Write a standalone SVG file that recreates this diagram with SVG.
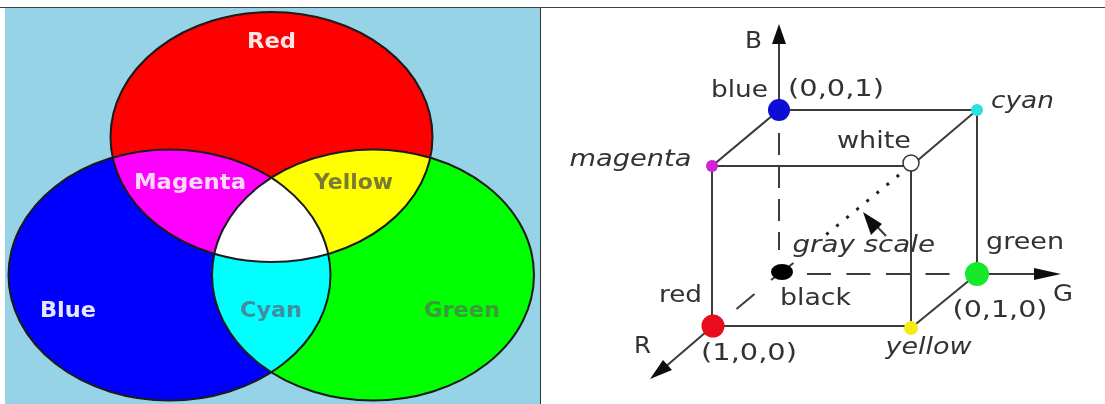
<svg xmlns="http://www.w3.org/2000/svg" width="1105" height="404" viewBox="0 0 1105 404">
<style>
.f{font-family:"DejaVu Sans","Liberation Sans",sans-serif;font-weight:700;font-size:21px}
.t{font-family:"DejaVu Sans","Liberation Sans",sans-serif;font-size:23px;fill:#333;filter:url(#s)}
.i{font-style:italic}
.e{fill:none;stroke:#1a1a1a;stroke-width:2}
.c{fill:none;stroke:#3a3a3a;stroke-width:2}
.p{fill:#111}
</style>
<defs>
<ellipse id="eR" cx="271.500" cy="137" rx="161" ry="125"/>
<ellipse id="eB" cx="169.500" cy="275" rx="161" ry="125.500"/>
<ellipse id="eG" cx="373" cy="275" rx="161" ry="125.500"/>
<clipPath id="cR"><use href="#eR"/></clipPath>
<clipPath id="cB"><use href="#eB"/></clipPath>
<clipPath id="cG"><use href="#eG"/></clipPath>
<filter id="s" x="-5%" y="-5%" width="110%" height="110%"><feGaussianBlur stdDeviation="0.5"/></filter>
<filter id="n" x="-30%" y="-30%" width="160%" height="160%"><feGaussianBlur stdDeviation="0.7"/></filter>
</defs>
<rect width="1105" height="404" fill="#fff"/>
<g id="venn" filter="url(#s)">
<rect x="5" y="8" width="535" height="396" fill="#97d3e6"/>
<use href="#eR" fill="#f00"/>
<use href="#eB" fill="#00f"/>
<use href="#eG" fill="#0f0"/>
<g clip-path="url(#cR)"><use href="#eB" fill="#f0f"/><use href="#eG" fill="#ff0"/></g>
<g clip-path="url(#cB)"><use href="#eG" fill="#0ff"/></g>
<g clip-path="url(#cR)"><g clip-path="url(#cB)"><use href="#eG" fill="#fff"/></g></g>
<use href="#eR" class="e"/><use href="#eB" class="e"/><use href="#eG" class="e"/>
<text class="f" x="247" y="48" textLength="49" lengthAdjust="spacingAndGlyphs" fill="#fbe6e6">Red</text>
<text class="f" x="134" y="189" textLength="112" lengthAdjust="spacingAndGlyphs" fill="#fbd9fb">Magenta</text>
<text class="f" x="314" y="189" textLength="79" lengthAdjust="spacingAndGlyphs" fill="#7a7a30">Yellow</text>
<text class="f" x="40" y="317" textLength="56" lengthAdjust="spacingAndGlyphs" fill="#e6e6ff">Blue</text>
<text class="f" x="240" y="317" textLength="62" lengthAdjust="spacingAndGlyphs" fill="#3f8f9f">Cyan</text>
<text class="f" x="424" y="317" textLength="76" lengthAdjust="spacingAndGlyphs" fill="#3a9a3a">Green</text>
</g>
<g id="frame">
<rect x="0" y="7" width="1105" height="1" fill="#444"/>
<rect x="540" y="8" width="1" height="396" fill="#333"/>
</g>
<g id="connectors" filter="url(#s)">
<path class="c" d="M779 110V38M779 110H977V274M779 110L712 166H911L977 110M712 166V326H911V166M713 326L664 368M911 328L977 274H1040"/>
<path class="c" stroke-dasharray="22 11" d="M779 133V250"/>
<path class="c" stroke-dasharray="24 15.500" d="M807 274H950"/>
<path class="c" d="M736.500 309L754.500 294"/>
<path d="M899 175L822 238" fill="none" stroke="#222" stroke-width="3" stroke-dasharray="3 10"/>
<path class="c" d="M886 236L869 218"/>
<path class="c" d="M771 280L793.500 263"/>
<path class="p" d="M779 24L786 44H772ZM1061 274L1034 280V268ZM650 379L663 360L672 370ZM863 212L882 224L871 235Z"/>
</g>
<g id="node-blue"><circle cx="779" cy="110" r="11" fill="#0a0ad8" filter="url(#n)"/><text class="t" x="711" y="97" textLength="57" lengthAdjust="spacingAndGlyphs">blue</text><text class="t" x="788" y="96" textLength="96" lengthAdjust="spacingAndGlyphs">(0,0,1)</text></g>
<g id="node-cyan"><circle cx="977" cy="110" r="6" fill="#2fe0e0" filter="url(#n)"/><text class="t i" x="991" y="108" textLength="63" lengthAdjust="spacingAndGlyphs">cyan</text></g>
<g id="node-magenta"><circle cx="712" cy="166" r="6" fill="#d020d8" filter="url(#n)"/><text class="t i" x="569.500" y="166" textLength="122" lengthAdjust="spacingAndGlyphs">magenta</text></g>
<g id="node-white"><circle cx="911" cy="163" r="8" fill="#fff" stroke="#333" stroke-width="1.500"/><text class="t" x="837" y="148" textLength="74" lengthAdjust="spacingAndGlyphs">white</text></g>
<g id="node-red"><circle cx="713" cy="326" r="11.500" fill="#e8101a" filter="url(#n)"/><text class="t" x="659" y="302" textLength="43" lengthAdjust="spacingAndGlyphs">red</text><text class="t" x="701" y="360" textLength="96" lengthAdjust="spacingAndGlyphs">(1,0,0)</text></g>
<g id="node-yellow"><circle cx="911" cy="328" r="7" fill="#f4ec18" filter="url(#n)"/><text class="t i" x="885.500" y="354" textLength="86" lengthAdjust="spacingAndGlyphs">yellow</text></g>
<g id="node-green"><circle cx="977" cy="274" r="12" fill="#16e82a" filter="url(#n)"/><text class="t" x="986" y="249" textLength="78" lengthAdjust="spacingAndGlyphs">green</text><text class="t" x="952.500" y="317" textLength="95" lengthAdjust="spacingAndGlyphs">(0,1,0)</text></g>
<g id="node-black"><ellipse cx="782" cy="272" rx="11" ry="8" fill="#000" filter="url(#n)"/><text class="t" x="780" y="305" textLength="71" lengthAdjust="spacingAndGlyphs">black</text></g>
<g id="labels">
<text class="t" x="745" y="48" textLength="17" lengthAdjust="spacingAndGlyphs">B</text>
<text class="t" x="1053" y="301" textLength="20" lengthAdjust="spacingAndGlyphs">G</text>
<text class="t" x="634" y="353" textLength="17" lengthAdjust="spacingAndGlyphs">R</text>
<text class="t i" x="792.500" y="252" textLength="142.500" lengthAdjust="spacingAndGlyphs">gray scale</text>
</g>
</svg>
